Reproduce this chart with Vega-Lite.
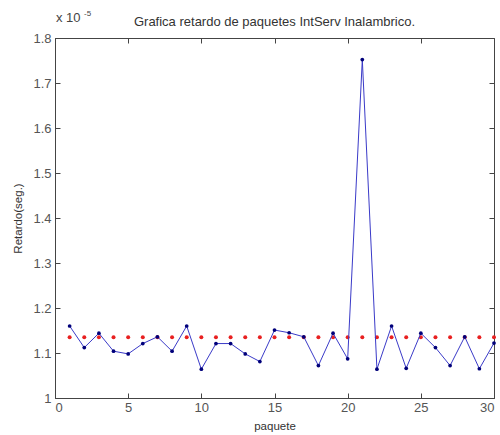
{
  "$schema": "https://vega.github.io/schema/vega-lite/v6.json",
  "width": 439,
  "height": 360,
  "autosize": {"type": "none"},
  "padding": {"left": 55, "top": 38, "right": 6, "bottom": 37},
  "background": "white",
  "title": {
    "text": "Grafica retardo de paquetes IntServ Inalambrico.",
    "font": "Liberation Sans",
    "fontSize": 13,
    "fontWeight": "normal",
    "color": "#333333",
    "offset": -19
  },
  "config": {
    "view": {"stroke": "#444444", "strokeWidth": 1},
    "axis": {
      "font": "Liberation Sans",
      "labelFont": "Liberation Sans",
      "titleFont": "Liberation Sans",
      "labelFontSize": 13,
      "labelColor": "#555555",
      "titleFontSize": 11.5,
      "titleFontWeight": "normal",
      "titleColor": "#333333",
      "domainColor": "#444444",
      "tickColor": "#444444",
      "tickSize": -5,
      "grid": false
    }
  },
  "data": {
    "values": [
      {"paquete": 1, "retardo": 1.160e-5, "promedio": 1.135e-5},
      {"paquete": 2, "retardo": 1.112e-5, "promedio": 1.135e-5},
      {"paquete": 3, "retardo": 1.144e-5, "promedio": 1.135e-5},
      {"paquete": 4, "retardo": 1.104e-5, "promedio": 1.135e-5},
      {"paquete": 5, "retardo": 1.098e-5, "promedio": 1.135e-5},
      {"paquete": 6, "retardo": 1.121e-5, "promedio": 1.135e-5},
      {"paquete": 7, "retardo": 1.136e-5, "promedio": 1.135e-5},
      {"paquete": 8, "retardo": 1.104e-5, "promedio": 1.135e-5},
      {"paquete": 9, "retardo": 1.160e-5, "promedio": 1.135e-5},
      {"paquete": 10, "retardo": 1.064e-5, "promedio": 1.135e-5},
      {"paquete": 11, "retardo": 1.121e-5, "promedio": 1.135e-5},
      {"paquete": 12, "retardo": 1.121e-5, "promedio": 1.135e-5},
      {"paquete": 13, "retardo": 1.098e-5, "promedio": 1.135e-5},
      {"paquete": 14, "retardo": 1.081e-5, "promedio": 1.135e-5},
      {"paquete": 15, "retardo": 1.151e-5, "promedio": 1.135e-5},
      {"paquete": 16, "retardo": 1.145e-5, "promedio": 1.135e-5},
      {"paquete": 17, "retardo": 1.136e-5, "promedio": 1.135e-5},
      {"paquete": 18, "retardo": 1.072e-5, "promedio": 1.135e-5},
      {"paquete": 19, "retardo": 1.144e-5, "promedio": 1.135e-5},
      {"paquete": 20, "retardo": 1.087e-5, "promedio": 1.135e-5},
      {"paquete": 21, "retardo": 1.752e-5, "promedio": 1.135e-5},
      {"paquete": 22, "retardo": 1.064e-5, "promedio": 1.135e-5},
      {"paquete": 23, "retardo": 1.160e-5, "promedio": 1.135e-5},
      {"paquete": 24, "retardo": 1.066e-5, "promedio": 1.135e-5},
      {"paquete": 25, "retardo": 1.144e-5, "promedio": 1.135e-5},
      {"paquete": 26, "retardo": 1.112e-5, "promedio": 1.135e-5},
      {"paquete": 27, "retardo": 1.072e-5, "promedio": 1.135e-5},
      {"paquete": 28, "retardo": 1.136e-5, "promedio": 1.135e-5},
      {"paquete": 29, "retardo": 1.065e-5, "promedio": 1.135e-5},
      {"paquete": 30, "retardo": 1.122e-5, "promedio": 1.135e-5}
    ]
  },
  "layer": [
    {
      "mark": {"type": "point", "filled": true, "color": "#e82020", "size": 16, "opacity": 1},
      "encoding": {
        "x": {
          "field": "paquete", "type": "quantitative",
          "scale": {"domain": [0, 30], "nice": false},
          "axis": {"orient": "top", "labels": false, "title": null, "domain": false, "labelPadding": 0, "values": [0, 5, 10, 15, 20, 25, 30]}
        },
        "y": {
          "field": "promedio", "type": "quantitative",
          "scale": {"domain": [1e-5, 1.8e-5], "nice": false, "zero": false},
          "axis": {"orient": "right", "labels": false, "title": null, "domain": false, "values": [1e-5, 1.1e-5, 1.2e-5, 1.3e-5, 1.4e-5, 1.5e-5, 1.6e-5, 1.7e-5, 1.8e-5]}
        }
      }
    },
    {
      "mark": {"type": "line", "color": "#3a3ac8", "strokeWidth": 1,
               "point": {"filled": true, "color": "#00007a", "size": 14}},
      "encoding": {
        "x": {
          "field": "paquete", "type": "quantitative",
          "scale": {"domain": [0, 30], "nice": false},
          "axis": {"orient": "bottom", "title": "paquete", "values": [0, 5, 10, 15, 20, 25, 30], "labelPadding": 8, "titlePadding": 6}
        },
        "y": {
          "field": "retardo", "type": "quantitative",
          "scale": {"domain": [1e-5, 1.8e-5], "nice": false, "zero": false},
          "axis": {"orient": "left", "title": "Retardo(seg.)", "values": [1e-5, 1.1e-5, 1.2e-5, 1.3e-5, 1.4e-5, 1.5e-5, 1.6e-5, 1.7e-5, 1.8e-5],
                   "labelExpr": "format(datum.value * 1e5, '.2~f')", "labelPadding": 9, "titlePadding": 9}
        }
      }
    },
    {
      "data": {"values": [{"label": "x 10"}]},
      "mark": {"type": "text", "font": "Liberation Sans", "fontSize": 13, "color": "#444444", "align": "left", "baseline": "alphabetic", "dx": 1, "dy": -16},
      "encoding": {
        "x": {"datum": 0, "type": "quantitative", "axis": null},
        "y": {"datum": 1.8e-5, "type": "quantitative", "axis": null},
        "text": {"field": "label"}
      }
    },
    {
      "data": {"values": [{"label": "-5"}]},
      "mark": {"type": "text", "font": "Liberation Sans", "fontSize": 8, "color": "#444444", "align": "left", "baseline": "alphabetic", "dx": 29, "dy": -22},
      "encoding": {
        "x": {"datum": 0, "type": "quantitative", "axis": null},
        "y": {"datum": 1.8e-5, "type": "quantitative", "axis": null},
        "text": {"field": "label"}
      }
    }
  ],
  "resolve": {"axis": {"x": "independent", "y": "independent"}}
}
